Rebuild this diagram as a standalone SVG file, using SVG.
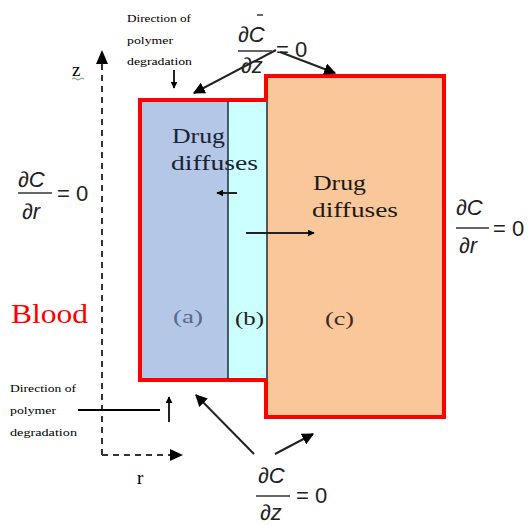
<svg xmlns="http://www.w3.org/2000/svg" width="528" height="525" viewBox="0 0 528 525">
<defs>
<marker id="ah" viewBox="0 0 10 10" refX="9" refY="5" markerWidth="7" markerHeight="7" orient="auto" markerUnits="userSpaceOnUse"><path d="M0,0 L10,5 L0,10 z" fill="#000"/></marker>
<marker id="ah2" viewBox="0 0 10 10" refX="9" refY="5" markerWidth="12" markerHeight="12" orient="auto" markerUnits="userSpaceOnUse"><path d="M0,0 L10,5 L0,10 z" fill="#000"/></marker>
</defs>
<style>
.serif{font-family:"Liberation Serif","Times New Roman",serif;fill:#000}
.math{font-family:"Liberation Sans",Arial,sans-serif;fill:#222}
.small{font-size:11px}
.big{font-size:22px}
.conn{stroke:#222;stroke-width:2;fill:none}
.dash{stroke:#333;stroke-width:2;stroke-dasharray:6,5;fill:none}
</style>
<rect width="528" height="525" fill="#fff"/>

<g id="region-a">
<rect x="140" y="100" width="88" height="280" fill="#b4c7e7"/>
</g>
<g id="region-b">
<rect x="228" y="100" width="39" height="280" fill="#ccffff"/>
</g>
<g id="region-c">
<rect x="266" y="76" width="178" height="341" fill="#fac79b"/>
</g>
<g id="borders">
<path d="M266,100 L140,100 L140,380 L266,380" fill="none" stroke="#ff0000" stroke-width="4"/>
<path d="M266,100 L266,76 L444,76 L444,417 L266,417 L266,380" fill="none" stroke="#ff0000" stroke-width="4"/>
<line x1="228" y1="101" x2="228" y2="379" stroke="#1f2f3a" stroke-width="1.5"/>
<line x1="267" y1="100" x2="267" y2="380" stroke="#1f2f3a" stroke-width="1.5"/>
</g>

<g id="axes">
<path class="dash" d="M102,455 L102,62"/>
<path d="M96,64 L102,50 L108,64 z" fill="#000"/>
<path class="dash" d="M102,455 L172,455"/>
<path d="M170,449 L183,455 L170,461 z" fill="#000"/>
<text x="72" y="76" class="serif" font-size="19">z</text>
<path d="M72,79 q2,-2 4,0 t4,0 t4,0" fill="none" stroke="#5a5" stroke-width="1"/>
<text x="137" y="484" class="serif" font-size="19">r</text>
</g>

<g id="blood">
<text x="11" y="323" class="serif" font-size="28" textLength="77" lengthAdjust="spacingAndGlyphs" style="fill:#ff0000">Blood</text>
</g>

<g id="texts-inside">
<text x="172" y="143" class="serif" font-size="22" textLength="53" lengthAdjust="spacingAndGlyphs" style="fill:#1a2233">Drug</text>
<text x="171" y="170" class="serif" font-size="22" textLength="87" lengthAdjust="spacingAndGlyphs" style="fill:#1a2233">diffuses</text>
<text x="313" y="190" class="serif" font-size="22" textLength="53" lengthAdjust="spacingAndGlyphs" style="fill:#1a1a1a">Drug</text>
<text x="312" y="217" class="serif" font-size="22" textLength="86" lengthAdjust="spacingAndGlyphs" style="fill:#1a1a1a">diffuses</text>
<text x="173" y="323" class="serif" font-size="19" textLength="30" lengthAdjust="spacingAndGlyphs" style="fill:#5a6a8a">(a)</text>
<text x="235" y="325" class="serif" font-size="19" textLength="29" lengthAdjust="spacingAndGlyphs" style="fill:#222">(b)</text>
<text x="325" y="325" class="serif" font-size="19" textLength="29" lengthAdjust="spacingAndGlyphs" style="fill:#3a2a1a">(c)</text>
</g>

<g id="connectors">
<line x1="237" y1="193" x2="217" y2="193" class="conn" marker-end="url(#ah)"/>
<line x1="246" y1="233" x2="314" y2="233" class="conn" marker-end="url(#ah)"/>
<line x1="174" y1="70" x2="174" y2="88" class="conn" marker-end="url(#ah)"/>
<line x1="78" y1="410" x2="160" y2="410" stroke="#000" stroke-width="2"/>
<line x1="169" y1="422" x2="169" y2="397" class="conn" marker-end="url(#ah)"/>
<line x1="276" y1="50" x2="194" y2="93" class="conn" marker-end="url(#ah2)"/>
<line x1="280" y1="52" x2="335" y2="73" class="conn" marker-end="url(#ah2)"/>
<line x1="254" y1="454" x2="196" y2="395" class="conn" marker-end="url(#ah2)"/>
<line x1="275" y1="454" x2="313" y2="434" class="conn" marker-end="url(#ah2)"/>
</g>

<g id="label-top-degradation">
<text x="127" y="22" class="serif small" textLength="64" lengthAdjust="spacingAndGlyphs">Direction of</text>
<text x="127" y="44" class="serif small" textLength="46" lengthAdjust="spacingAndGlyphs">polymer</text>
<text x="127" y="65" class="serif small" textLength="65" lengthAdjust="spacingAndGlyphs">degradation</text>
</g>
<g id="label-bottom-degradation">
<text x="10" y="392" class="serif small" textLength="66" lengthAdjust="spacingAndGlyphs">Direction of</text>
<text x="10" y="414" class="serif small" textLength="46" lengthAdjust="spacingAndGlyphs">polymer</text>
<text x="10" y="436" class="serif small" textLength="67" lengthAdjust="spacingAndGlyphs">degradation</text>
</g>

<g id="eq-left">
<text x="18" y="187" class="math big" font-style="italic">∂C</text>
<line x1="18" y1="193" x2="52" y2="193" stroke="#333" stroke-width="1.5"/>
<text x="22" y="219" class="math big" font-style="italic">∂r</text>
<text x="57" y="201" class="math big">= 0</text>
</g>
<g id="eq-right">
<text x="456" y="215" class="math big" font-style="italic">∂C</text>
<line x1="456" y1="228" x2="489" y2="228" stroke="#333" stroke-width="1.5"/>
<text x="459" y="253" class="math big" font-style="italic">∂r</text>
<text x="493" y="236" class="math big">= 0</text>
</g>
<g id="eq-top">
<line x1="257" y1="15" x2="263" y2="15" stroke="#335" stroke-width="1.5"/>
<text x="238" y="42" class="math big" font-style="italic">∂C</text>
<line x1="238" y1="51" x2="272" y2="51" stroke="#333" stroke-width="1.5"/>
<text x="241" y="73" class="math big" font-style="italic">∂z</text>
<text x="276" y="57" class="math big">= 0</text>
</g>
<g id="eq-bottom">
<text x="258" y="483" class="math big" font-style="italic">∂C</text>
<line x1="256" y1="496" x2="290" y2="496" stroke="#333" stroke-width="1.5"/>
<text x="260" y="520" class="math big" font-style="italic">∂z</text>
<text x="296" y="503" class="math big">= 0</text>
</g>
</svg>
